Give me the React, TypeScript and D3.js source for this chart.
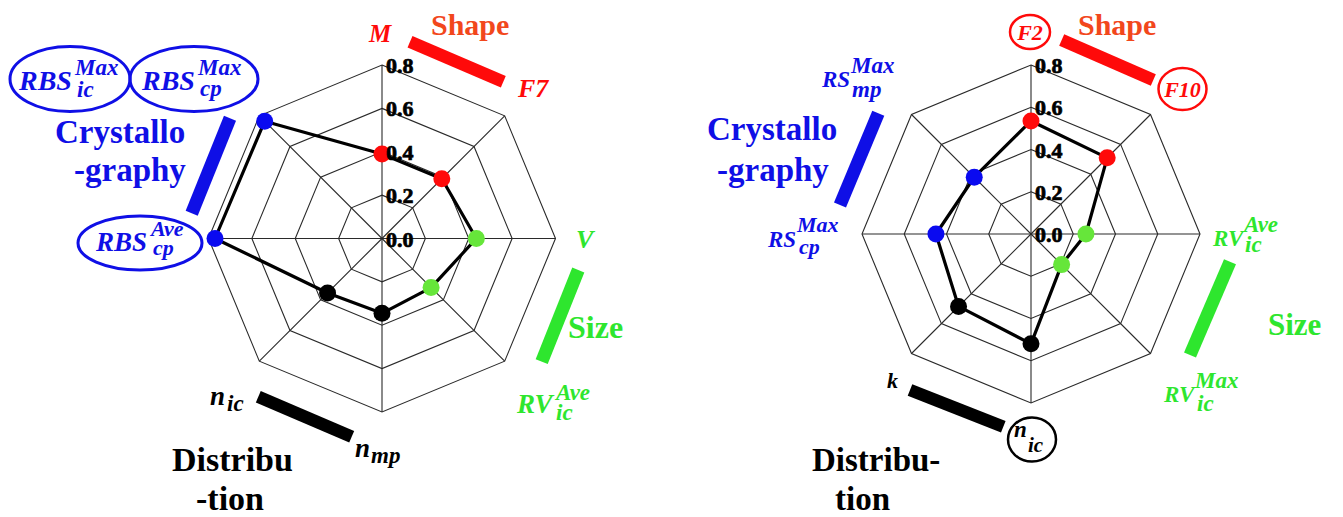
import React from "react";
import * as d3 from "d3";

// ---------- data ----------
const ticks = [0.0, 0.2, 0.4, 0.6, 0.8];
const groups = ["Shape", "Shape", "Size", "Size", "Distribution", "Distribution", "Crystallography", "Crystallography"];

const leftAxes = ["M", "F7", "V", "RVicAve", "nmp", "nic", "RBScpAve", "RBSMax"];
const leftValues = [0.39, 0.39, 0.435, 0.32, 0.345, 0.355, 0.77, 0.765];

const rightAxes = ["F2", "F10", "RVicAve", "RVicMax", "nic", "k", "RScpMax", "RSmpMax"];
const rightValues = [0.535, 0.51, 0.26, 0.205, 0.52, 0.485, 0.45, 0.38];

// ---------- styles ----------
const groupDot: Record<string, string> = {
  Shape: "#ff0a0a",
  Size: "#66e63a",
  Distribution: "#000000",
  Crystallography: "#0a0af0",
};
const RED = "#ff0a0a";
const ORANGE = "#f2471c";
const GREEN = "#2ee62e";
const BLUE = "#0f0fe6";
const FONT = "Liberation Serif, Times New Roman, Times, DejaVu Serif, serif";

type RadarProps = { cx: number; cy: number; R: number; values: number[]; axes: string[] };

function Radar({ cx, cy, R, values, axes }: RadarProps) {
  const r = d3.scaleLinear().domain([0, 0.8]).range([0, R]);
  const n = axes.length;
  const angle = d3.scaleLinear().domain([0, n]).range([0, 2 * Math.PI]);
  const pt = (i: number, v: number): [number, number] => {
    const a = angle(i);
    return [cx + r(v) * Math.sin(a), cy - r(v) * Math.cos(a)];
  };
  const ringPath = (v: number) =>
    "M" + d3.range(n).map((i) => pt(i, v).join(",")).join("L") + "Z";
  const dataPath = d3
    .line<number>()
    .x((d, i) => pt(i, d)[0])
    .y((d, i) => pt(i, d)[1])
    .curve(d3.curveLinearClosed)(values) as string;
  return (
    <g>
      {ticks.filter((t) => t > 0).map((t) => (
        <path key={t} d={ringPath(t)} fill="none" stroke="#2a2a2a" strokeWidth={1.1} />
      ))}
      {d3.range(n).map((i) => {
        const [x, y] = pt(i, 0.8);
        return <line key={i} x1={cx} y1={cy} x2={x} y2={y} stroke="#2a2a2a" strokeWidth={1.1} />;
      })}
      <path d={dataPath} fill="none" stroke="#000" strokeWidth={3.2} strokeLinejoin="round" />
      {values.map((v, i) => {
        const [x, y] = pt(i, v);
        return <circle key={i} cx={x} cy={y} r={8.5} fill={groupDot[groups[i]]} />;
      })}
      {ticks.map((t) => (
        <text
          key={t}
          x={cx + 4}
          y={cy - r(t) + 8}
          fontFamily={FONT}
          fontWeight="bold"
          fontSize={22}
          fill="#000"
          stroke="#000"
          strokeWidth={0.7}
        >
          {t.toFixed(1)}
        </text>
      ))}
    </g>
  );
}

type TP = { x: number; y: number; s: number; c: string; t: string; it?: boolean; anchor?: string };
function T({ x, y, s, c, t, it = true, anchor = "start" }: TP) {
  return (
    <text
      x={x}
      y={y}
      fontSize={s}
      fill={c}
      fontFamily={FONT}
      fontWeight="bold"
      fontStyle={it ? "italic" : "normal"}
      textAnchor={anchor as any}
    >
      {t}
    </text>
  );
}

function Bar({ x1, y1, x2, y2, c, w = 12.5 }: any) {
  return <line x1={x1} y1={y1} x2={x2} y2={y2} stroke={c} strokeWidth={w} />;
}

export default function App() {
  return (
    <svg
      width={1343}
      height={517}
      style={{ position: "absolute", left: 0, top: 0, background: "#fff" }}
    >
      <rect width={1343} height={517} fill="#fff" />
      <Radar cx={382} cy={238.5} R={173.5} values={leftValues} axes={leftAxes} />
      <Radar cx={1031} cy={234} R={169} values={rightValues} axes={rightAxes} />

      {/* ---------- left annotations ---------- */}
      <T x={369} y={42} s={25} c={RED} t="M" />
      <Bar x1={410} y1={41.7} x2={503.3} y2={81.7} c={RED} />
      <T x={431} y={35} s={30} c={ORANGE} t="Shape" it={false} />
      <T x={518} y={97} s={26} c={RED} t="F7" />

      <T x={576} y={248} s={26} c={GREEN} t="V" />
      <Bar x1={578.3} y1={270} x2={541.7} y2={361.7} c={GREEN} w={13} />
      <T x={568} y={338} s={32} c={GREEN} t="Size" it={false} />
      <T x={517} y={413} s={27} c={GREEN} t="RV" />
      <T x={556} y={400} s={23} c={GREEN} t="Ave" />
      <T x={556} y={420} s={23} c={GREEN} t="ic" />

      <T x={210} y={405} s={27} c="#000" t="n" />
      <T x={227} y={411} s={23} c="#000" t="ic" />
      <Bar x1={258.3} y1={396.7} x2={351.7} y2={436.7} c="#000" />
      <T x={355} y={457} s={27} c="#000" t="n" />
      <T x={371} y={463} s={23} c="#000" t="mp" />
      <T x={172} y={471} s={34} c="#000" t="Distribu" it={false} />
      <T x={196} y={510} s={34} c="#000" t="-tion" it={false} />

      <ellipse cx={70} cy={79} rx={60} ry={32.5} fill="none" stroke={BLUE} strokeWidth={3} />
      <T x={19} y={90} s={28} c={BLUE} t="RBS" />
      <T x={75} y={75} s={23} c={BLUE} t="Max" />
      <T x={77} y={97} s={23} c={BLUE} t="ic" />
      <ellipse cx={194} cy={79} rx={64} ry={32.5} fill="none" stroke={BLUE} strokeWidth={3} />
      <T x={142} y={90} s={28} c={BLUE} t="RBS" />
      <T x={198} y={75} s={23} c={BLUE} t="Max" />
      <T x={200} y={96} s={23} c={BLUE} t="cp" />
      <Bar x1={230} y1={118.3} x2={191.7} y2={213.3} c={BLUE} w={13} />
      <T x={55} y={143} s={33} c={BLUE} t="Crystallo" it={false} />
      <T x={74} y={181} s={33} c={BLUE} t="-graphy" it={false} />
      <ellipse cx={140} cy={243} rx={62} ry={27} fill="none" stroke={BLUE} strokeWidth={3} />
      <T x={96} y={251} s={27} c={BLUE} t="RBS" />
      <T x={151} y={236} s={22} c={BLUE} t="Ave" />
      <T x={153} y={255} s={22} c={BLUE} t="cp" />

      {/* ---------- right annotations ---------- */}
      <ellipse cx={1030} cy={32} rx={20} ry={17} fill="none" stroke={RED} strokeWidth={2.5} />
      <T x={1030} y={40} s={22} c={RED} t="F2" anchor="middle" />
      <Bar x1={1061.7} y1={40} x2={1153.3} y2={80} c={RED} />
      <T x={1078} y={35} s={30} c={ORANGE} t="Shape" it={false} />
      <ellipse cx={1182.5} cy={89} rx={24} ry={21} fill="none" stroke={RED} strokeWidth={2.5} />
      <T x={1182.5} y={97} s={22} c={RED} t="F10" anchor="middle" />

      <T x={1213} y={246} s={23} c={GREEN} t="RV" />
      <T x={1244} y={232} s={23} c={GREEN} t="Ave" />
      <T x={1245} y={252} s={23} c={GREEN} t="ic" />
      <Bar x1={1230} y1={261.7} x2={1190} y2={355} c={GREEN} w={13} />
      <T x={1268} y={335} s={31} c={GREEN} t="Size" it={false} />
      <T x={1164} y={402} s={23} c={GREEN} t="RV" />
      <T x={1195} y={388} s={23} c={GREEN} t="Max" />
      <T x={1197} y={411} s={23} c={GREEN} t="ic" />

      <T x={887} y={388} s={22} c="#000" t="k" />
      <Bar x1={910} y1={390} x2={1003.3} y2={426.7} c="#000" />
      <ellipse cx={1032} cy={439.5} rx={24} ry={22} fill="none" stroke="#000" strokeWidth={2.5} />
      <T x={1014} y={437} s={23} c="#000" t="n" />
      <T x={1028} y={452} s={21} c="#000" t="ic" />
      <T x={812} y={471} s={33} c="#000" t="Distribu-" it={false} />
      <T x={835} y={510} s={33} c="#000" t="tion" it={false} />

      <T x={822} y={87} s={23} c={BLUE} t="RS" />
      <T x={851} y={73} s={23} c={BLUE} t="Max" />
      <T x={852} y={97} s={23} c={BLUE} t="mp" />
      <Bar x1={878.3} y1={113.3} x2={840} y2={205} c={BLUE} w={13} />
      <T x={707} y={140} s={33} c={BLUE} t="Crystallo" it={false} />
      <T x={717} y={181} s={33} c={BLUE} t="-graphy" it={false} />
      <T x={768} y={247} s={23} c={BLUE} t="RS" />
      <T x={797} y={232} s={22} c={BLUE} t="Max" />
      <T x={799} y={254} s={22} c={BLUE} t="cp" />
    </svg>
  );
}
